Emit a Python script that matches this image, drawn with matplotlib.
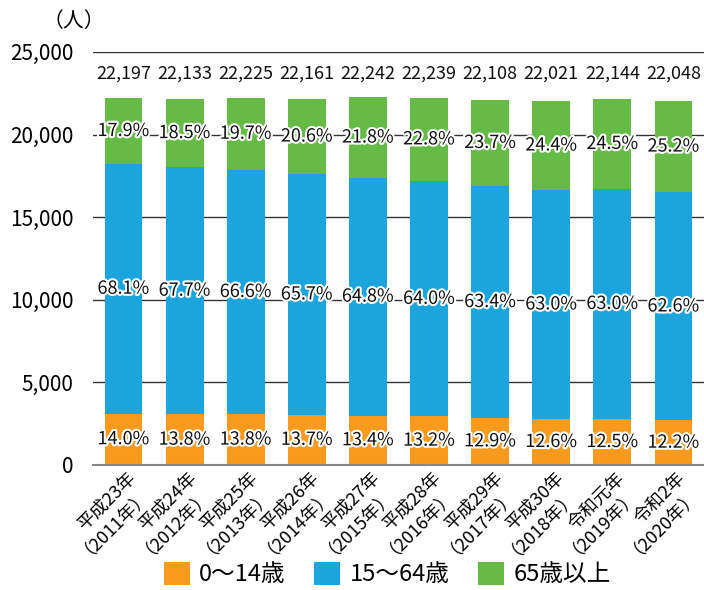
import numpy as np
import matplotlib
matplotlib.use("Agg")
import matplotlib.pyplot as plt
import matplotlib.patheffects as pe
from matplotlib.patches import Patch

plt.rcParams['font.family'] = ['Noto Sans CJK JP', 'DejaVu Sans']

years = ["平成23年\n（2011年）", "平成24年\n（2012年）", "平成25年\n（2013年）",
         "平成26年\n（2014年）", "平成27年\n（2015年）", "平成28年\n（2016年）",
         "平成29年\n（2017年）", "平成30年\n（2018年）", "令和元年\n（2019年）",
         "令和2年\n（2020年）"]
totals = [22197, 22133, 22225, 22161, 22242, 22239, 22108, 22021, 22144, 22048]
pct_young = [14.0, 13.8, 13.8, 13.7, 13.4, 13.2, 12.9, 12.6, 12.5, 12.2]
pct_work = [68.1, 67.7, 66.6, 65.7, 64.8, 64.0, 63.4, 63.0, 63.0, 62.6]
pct_old = [17.9, 18.5, 19.7, 20.6, 21.8, 22.8, 23.7, 24.4, 24.5, 25.2]
series_names = ["0～14歳", "15～64歳", "65歳以上"]
colors = ["#F79A1E", "#1BA5DC", "#66BB46"]

tot = np.array(totals, dtype=float)
young = tot * np.array(pct_young) / 100
work = tot * np.array(pct_work) / 100
old = tot - young - work

fig = plt.figure(figsize=(7.04, 5.9), dpi=100)
ax = fig.add_axes([0.132, 0.212, 0.868, 0.70])

x = np.arange(len(years))
w = 0.62
stroke = [pe.withStroke(linewidth=3, foreground="white")]

bottom = np.zeros(len(years))
for vals, pcts, c in zip([young, work, old], [pct_young, pct_work, pct_old], colors):
    ax.bar(x, vals, w, bottom=bottom, color=c, zorder=2)
    for xi, b, v, p in zip(x, bottom, vals, pcts):
        ax.text(xi, b + v / 2, f"{p:.1f}%", ha="center", va="center",
                fontsize=13, color="#111111", zorder=4, path_effects=stroke)
    bottom = bottom + vals

for xi, t in zip(x, totals):
    ax.text(xi, 23700, f"{t:,}", ha="center", va="center", fontsize=13,
            color="#111111")

ax.set_xlim(-0.5, len(years) - 0.5)
ax.set_ylim(0, 25000)
ax.set_yticks(np.arange(0, 25001, 5000))
ax.set_yticklabels([f"{v:,}" for v in range(0, 25001, 5000)], fontsize=15)
ax.grid(axis="y", color="#333333", linewidth=1, zorder=0)
ax.set_axisbelow(True)
for s in ["top", "right", "left"]:
    ax.spines[s].set_visible(False)
ax.spines["bottom"].set_color("#888888")
ax.spines["bottom"].set_linewidth(1.5)
ax.tick_params(axis="both", length=0, pad=14)
ax.tick_params(axis="x", pad=3)
ax.set_xticks(x + 0.05)
ax.set_xticklabels(years, rotation=45, ha="right", rotation_mode="anchor",
                   fontsize=13, linespacing=0.8)

fig.text(0.105, 0.965, "（人）", ha="center", va="center", fontsize=15)

handles = [Patch(facecolor=c, label=n) for c, n in zip(colors, series_names)]
fig.legend(handles=handles, loc="lower center", bbox_to_anchor=(0.55, -0.03),
           ncol=3, frameon=False, fontsize=17, handlelength=1.1,
           handleheight=1.1, handletextpad=0.4, columnspacing=1.2)

fig.savefig("out.png", dpi=100)
